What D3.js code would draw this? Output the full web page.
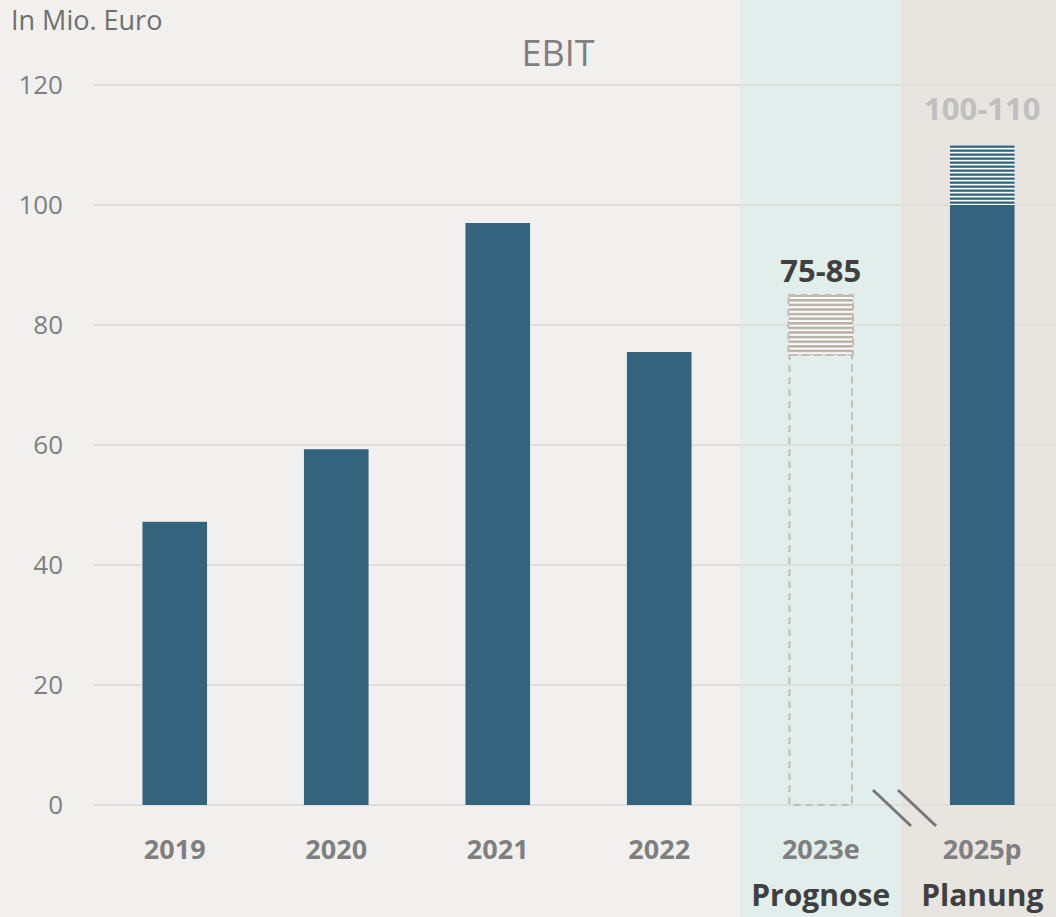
<!DOCTYPE html>
<html>
<head>
<meta charset="utf-8">
<script src="https://cdn.jsdelivr.net/npm/d3@7"></script>
<style>
  html, body { margin: 0; padding: 0; background: #f1f0ee; }
  text { font-family: "Open Sans", sans-serif; }
</style>
</head>
<body>
<div id="chart"></div>
<script>
"use strict";
var years = ["2019", "2020", "2021", "2022", "2023e", "2025p"];
var actuals = [47.2, 59.3, 97.0, 75.5, null, 100];
var rangeLow = [null, null, null, null, 75, 100];
var rangeHigh = [null, null, null, null, 85, 110];
var rangeLabels = [null, null, null, null, "75-85", "100-110"];
var yTicks = [0, 20, 40, 60, 80, 100, 120];
var zoneNames = ["Prognose", "Planung"];

var W = 1056, H = 917;
var svg = d3.select("#chart").append("svg")
  .attr("width", W)
  .attr("height", H);

var x = d3.scaleBand().domain(years).range([94, 1063]).paddingInner(0.6).paddingOuter(0.3);
var y = d3.scaleLinear().domain([0, 120]).range([805, 85]);

var defs = svg.append("defs");
var pat1 = defs.append("pattern")
  .attr("id", "hatchTan")
  .attr("patternUnits", "userSpaceOnUse")
  .attr("width", 8).attr("height", 4.6);
pat1.append("rect").attr("width", 8).attr("height", 4.6).attr("fill", "#ffffff");
pat1.append("rect").attr("y", 0).attr("width", 8).attr("height", 2.6).attr("fill", "#bab1a6");

var pat2 = defs.append("pattern")
  .attr("id", "hatchBlue")
  .attr("patternUnits", "userSpaceOnUse")
  .attr("width", 8).attr("height", 4);
pat2.append("rect").attr("width", 8).attr("height", 4).attr("fill", "#ffffff");
pat2.append("rect").attr("y", 1.5).attr("width", 8).attr("height", 2.3).attr("fill", "#34637e");

// shaded zones
var step = x.step();
var zoneColors = ["#e1eeeb", "#e8e4e0"];
["2023e", "2025p"].forEach(function(k, i) {
  var cx = x(k) + x.bandwidth() / 2;
  svg.append("rect")
    .attr("x", cx - step / 2)
    .attr("y", 0)
    .attr("width", step)
    .attr("height", H)
    .attr("fill", zoneColors[i]);
});

// gridlines
svg.append("g").selectAll("line")
  .data(yTicks)
  .enter().append("line")
    .attr("x1", 93).attr("x2", W)
    .attr("y1", function(d) { return y(d); })
    .attr("y2", function(d) { return y(d); })
    .attr("stroke", "#e0dedb")
    .attr("stroke-width", 2);

// y tick labels
svg.append("g").selectAll("text")
  .data(yTicks)
  .enter().append("text")
    .attr("x", 63)
    .attr("y", function(d) { return y(d); })
    .attr("dy", "0.36em")
    .attr("text-anchor", "end")
    .attr("font-size", 26)
    .attr("fill", "#7f7f7f")
    .text(function(d) { return d; });

svg.append("text")
  .attr("x", 11).attr("y", 30)
  .attr("font-size", 27)
  .attr("fill", "#6f6f6f")
  .text("In Mio. Euro");

svg.append("text")
  .attr("x", 558).attr("y", 66)
  .attr("text-anchor", "middle")
  .attr("font-size", 36)
  .attr("fill", "#7f7f7f")
  .text("EBIT");

// actual bars
svg.append("g").selectAll("rect")
  .data(years.map(function(d, i) { return {k: d, v: actuals[i]}; }).filter(function(d) { return d.v !== null; }))
  .enter().append("rect")
    .attr("x", function(d) { return x(d.k); })
    .attr("y", function(d) { return y(d.v); })
    .attr("width", x.bandwidth())
    .attr("height", function(d) { return y(0) - y(d.v); })
    .attr("fill", "#34637e");

// 2023e dashed outline up to low end of range
var k23 = "2023e";
svg.append("rect")
  .attr("x", x(k23) + 1)
  .attr("y", y(rangeLow[4]))
  .attr("width", x.bandwidth() - 2)
  .attr("height", y(0) - y(rangeLow[4]))
  .attr("fill", "none")
  .attr("stroke", "#c3bdb5")
  .attr("stroke-width", 2)
  .attr("stroke-dasharray", "7,5");

// range bars
var ranges = years.map(function(d, i) {
  return {k: d, lo: rangeLow[i], hi: rangeHigh[i], label: rangeLabels[i], i: i};
}).filter(function(d) { return d.lo !== null; });

svg.append("g").selectAll("rect")
  .data(ranges)
  .enter().append("rect")
    .attr("x", function(d) { return x(d.k); })
    .attr("y", function(d) { return y(d.hi); })
    .attr("width", x.bandwidth())
    .attr("height", function(d) { return y(d.lo) - y(d.hi); })
    .attr("fill", function(d) { return d.k === k23 ? "url(#hatchTan)" : "url(#hatchBlue)"; })
    .attr("stroke", function(d) { return d.k === k23 ? "#c3bdb5" : "none"; })
    .attr("stroke-width", 2)
    .attr("stroke-dasharray", "7,5");

svg.append("g").selectAll("text")
  .data(ranges)
  .enter().append("text")
    .attr("x", function(d) { return x(d.k) + x.bandwidth() / 2; })
    .attr("y", function(d) { return y(d.hi) - (d.k === k23 ? 13 : 25); })
    .attr("text-anchor", "middle")
    .attr("font-size", 31)
    .attr("font-weight", "bold")
    .attr("fill", function(d) { return d.k === k23 ? "#404040" : "#bfbfbf"; })
    .text(function(d) { return d.label; });

// axis break marks
svg.append("g").selectAll("line")
  .data([0, 25])
  .enter().append("line")
    .attr("x1", function(d) { return 873 + d; })
    .attr("y1", 790)
    .attr("x2", function(d) { return 911 + d; })
    .attr("y2", 826)
    .attr("stroke", "#777777")
    .attr("stroke-width", 3);

// category labels
svg.append("g").selectAll("text")
  .data(years)
  .enter().append("text")
    .attr("x", function(d) { return x(d) + x.bandwidth() / 2; })
    .attr("y", 859)
    .attr("text-anchor", "middle")
    .attr("font-size", 27)
    .attr("font-weight", "bold")
    .attr("fill", "#7f7f7f")
    .text(function(d) { return d; });

svg.append("g").selectAll("text")
  .data(["2023e", "2025p"].map(function(k, i) { return {k: k, name: zoneNames[i]}; }))
  .enter().append("text")
    .attr("x", function(d) { return x(d.k) + x.bandwidth() / 2; })
    .attr("y", 906)
    .attr("text-anchor", "middle")
    .attr("font-size", 30)
    .attr("font-weight", "bold")
    .attr("fill", "#404040")
    .text(function(d) { return d.name; });
</script>
</body>
</html>
